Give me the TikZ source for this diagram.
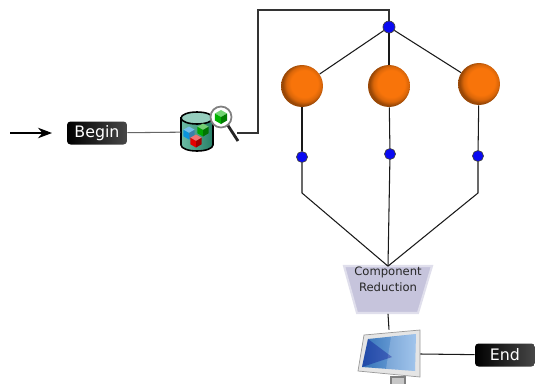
\documentclass[tikz,border=0pt]{standalone}
\usepackage{fontspec}
\setmainfont{DejaVu Sans}
\usetikzlibrary{arrows.meta}

\definecolor{hubblue}{HTML}{0A0AF2}
\definecolor{orb}{HTML}{F8740A}
\definecolor{tank}{HTML}{2E9E7E}
\definecolor{lilac}{HTML}{C6C4DC}
\definecolor{glass}{HTML}{3C86D8}

\pgfdeclareradialshading{orbshade}{\pgfpoint{4bp}{4bp}}{%
  color(0bp)=(orb); color(16bp)=(orb); color(21bp)=(orb!88!black);
  color(25bp)=(orb!62!black); color(50bp)=(orb!62!black)}

% small isometric cube: centre, half size, colour
\newcommand{\isocube}[3]{%
  \begin{scope}[shift={(#1)}]
    \fill[#3!55!white] (0,-#2) -- (0.87*#2,-0.5*#2) -- (0,0) -- (-0.87*#2,-0.5*#2) -- cycle;
    \fill[#3] (-0.87*#2,-0.5*#2) -- (0,0) -- (0,#2) -- (-0.87*#2,0.5*#2) -- cycle;
    \fill[#3!70!black] (0,0) -- (0.87*#2,-0.5*#2) -- (0.87*#2,0.5*#2) -- (0,#2) -- cycle;
  \end{scope}}

\begin{document}
\begin{tikzpicture}[x=0.02cm, y=-0.02cm,
    tag/.style={rounded corners=2pt, left color=black, right color=black!72,
      text=white, minimum width=1.2cm, minimum height=0.46cm, inner sep=0pt,
      font=\fontsize{9}{10}\selectfont},
    dot/.style={circle, fill=hubblue, draw=black!75, line width=0.4pt,
      minimum size=0.22cm, inner sep=0pt},
    ball/.style={circle, shading=orbshade, minimum size=0.84cm, inner sep=0pt},
    wire/.style={draw=black!90, line width=0.6pt}]
  \useasboundingbox (0,0) rectangle (535,383);

  % Nodes
  \coordinate (inA) at (10,133);
  \coordinate (inB) at (52,133);
  \node (begin) [tag] at (97,133) {Begin};

  % database with lens
  \node (db) [minimum width=0.64cm, minimum height=0.8cm, inner sep=0pt] at (197,132) {};
  \shade[left color=tank!70!white, right color=tank!80!black, draw=black, line width=0.9pt]
    (181,118) -- (181,145) arc[start angle=180, end angle=360, x radius=16, y radius=-6]
    -- (213,118) -- cycle;
  \filldraw[fill=tank!50!white, draw=black, line width=0.9pt]
    (197,118) ellipse[x radius=16, y radius=6];
  \isocube{189,133}{6.5}{cyan!80!blue}
  \isocube{203,130}{6.5}{green!65!black}
  \isocube{196,141}{6.5}{red!90!black}
  \coordinate (dbout) at (237,133);
  \draw[black!85, line width=1.6pt] (227,124) -- (238,141);
  \node (lens) [circle, fill=white, draw=black!50, line width=1pt,
    minimum size=0.42cm, inner sep=0pt] at (221,117) {};
  \isocube{221,117}{7}{green!70!black}

  \coordinate (bend) at (258,10);
  \node (hub) [dot, minimum size=0.24cm] at (389,27) {};

  \node (ballA) [ball] at (302,86) {};
  \node (ballB) [ball] at (389,86) {};
  \node (ballC) [ball] at (479,84) {};

  \node (jA) [dot] at (302,157) {};
  \node (jB) [dot] at (390,154) {};
  \node (jC) [dot] at (478,156) {};
  \coordinate (kA) at (302,193);
  \coordinate (kC) at (478,193);

  \fill[lilac, draw=lilac!55!white, line width=1.2pt]
    (344,266) -- (432,266) -- (418,313) -- (357,313) -- cycle;
  \node (red) [minimum width=1.76cm, minimum height=0.94cm, align=center,
    inner sep=0pt, text=black!85, font=\fontsize{6.6}{9}\selectfont]
    at (388,290) {Component\\Reduction\\[3pt]};

  % monitor
  \node (mon) [minimum width=1.24cm, minimum height=0.96cm, inner sep=0pt] at (389,354) {};
  \fill[black!50] (390,376) rectangle (406,390);
  \fill[black!22] (392,378) rectangle (404,390);
  \fill[black!10, draw=black!40, line width=0.4pt]
    (364,335) -- (420,330) -- (420,377) -- (358,371) -- cycle;
  \shade[left color=glass!85!black, right color=glass!60!white]
    (368,339) -- (416,334) -- (415,371) -- (362,367) -- cycle;
  \fill[white, opacity=0.2] (391,337) -- (416,334) -- (415,371) -- (386,369) -- cycle;
  \fill[blue!55!black, opacity=0.35] (368,339) -- (392,357) -- (362,367) -- cycle;

  \node (finish) [tag] at (505,355) {End};

  % Edges
  \draw[-{Stealth[length=8pt, width=6pt]}, line width=0.6pt] (inA) -- (inB);
  \path[draw=black!60, line width=0.6pt] (begin) -- (db);
  \path[draw=black!80, line width=0.6pt] (dbout) -| (bend) -| (hub);

  \path[wire] (hub) -- (ballA);
  \path[wire] (hub) -- (ballB);
  \path[wire] (hub) -- (ballC);

  \path[wire] (ballA) -- (jA);
  \path[wire] (ballB) -- (jB);
  \path[wire] (ballC) -- (jC);

  \path[wire] (jA) -- (kA) -- (red.north);
  \path[wire] (jB) -- (red.north);
  \path[wire] (jC) -- (kC) -- (red.north);

  \path[wire] (red.south) -- (mon.north);
  \path[wire] (mon.east) -- (finish);
\end{tikzpicture}
\end{document}
